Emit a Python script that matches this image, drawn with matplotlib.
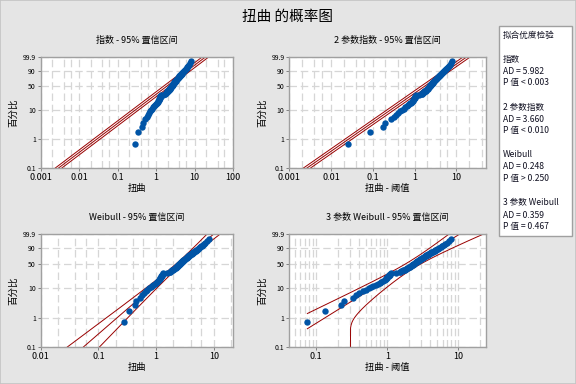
import numpy as np
import matplotlib
matplotlib.use("Agg")
import matplotlib.pyplot as plt
from matplotlib.ticker import FixedLocator, FuncFormatter, NullFormatter
from matplotlib.patches import Rectangle

plt.rcParams["font.family"] = ["Noto Sans CJK SC", "DejaVu Sans"]

# 扭曲 数据（从图中读取，升序）
niuqu = np.array([
    0.28, 0.34, 0.43, 0.45, 0.53, 0.57, 0.61, 0.66, 0.70, 0.76,
    0.80, 0.84, 0.90, 0.94, 0.99, 1.03, 1.08, 1.12, 1.15, 1.17,
    1.19, 1.21, 1.23, 1.25, 1.27, 1.29, 1.31, 1.34, 1.53, 1.71,
    1.74, 1.79, 1.84, 1.88, 1.92, 1.97, 2.03, 2.07, 2.12, 2.17,
    2.20, 2.24, 2.29, 2.33, 2.36, 2.41, 2.44, 2.49, 2.53, 2.56,
    2.61, 2.64, 2.69, 2.73, 2.76, 2.81, 2.85, 2.88, 2.93, 2.97,
    3.02, 3.06, 3.12, 3.16, 3.22, 3.27, 3.32, 3.39, 3.45, 3.50,
    3.57, 3.64, 3.70, 3.76, 3.84, 3.90, 3.99, 4.06, 4.13, 4.22,
    4.31, 4.39, 4.50, 4.62, 4.71, 4.85, 4.96, 5.08, 5.23, 5.35,
    5.51, 5.64, 5.83, 6.01, 6.18, 6.46, 6.73, 7.12, 7.58, 8.21])

pct_ticks = [0.1, 1, 10, 50, 90, 99.9]

# Weibull 拟合参数（从图中估计）
wbl_scale, wbl_shape = 3.15, 1.70
wbl3_scale, wbl3_shape, wbl3_thresh = 2.85, 1.50, 0.205

gof_names = ["指数", "2 参数指数", "Weibull", "3 参数 Weibull"]
gof_ad = ["5.982", "3.660", "0.248", "0.359"]
gof_p = ["< 0.003", "< 0.010", "> 0.250", "= 0.467"]

n = len(niuqu)
rank_pct = (np.arange(1, n + 1) - 0.3) / (n + 0.4) * 100

# 指数 / 2 参数指数 参数由数据得到
exp_scale = niuqu.mean()
exp2_scale = n * (niuqu.mean() - niuqu.min()) / (n - 1)
exp2_thresh = niuqu.min() - exp2_scale / n


def fwd(p):
    p = np.clip(np.asarray(p, dtype=float), 1e-9, 100 - 1e-9)
    return np.log(-np.log(1 - p / 100))


def inv(w):
    return 100 * (1 - np.exp(-np.exp(np.asarray(w, dtype=float))))


def ev_sd(w):
    return np.sqrt((1.1087 + 0.6079 * w ** 2 + 0.514 * w) / n)


RED = "#990000"
BLUE = "#0054a6"
z = 1.96

fig = plt.figure(figsize=(5.76, 3.84), dpi=100)
fig.patch.set_facecolor("#e5e5e5")
fig.patches.append(Rectangle((0, 0), 1, 1, transform=fig.transFigure, fill=False,
                             edgecolor="#c4c4c4", lw=1.2))

W, H = 576, 384
boxes = {
    "exp": (40.7, 56.7, 233, 168.3),
    "exp2": (289.3, 56.7, 485.7, 168.3),
    "wbl": (40.7, 234.3, 233, 347.3),
    "wbl3": (289.3, 234.3, 485.7, 347.3),
}
xlims = {"exp": (0.001, 100), "exp2": (0.001, 50), "wbl": (0.01, 21.5), "wbl3": (0.0418, 24.3)}
titles = {"exp": "指数 - 95% 置信区间", "exp2": "2 参数指数 - 95% 置信区间",
          "wbl": "Weibull - 95% 置信区间", "wbl3": "3 参数 Weibull - 95% 置信区间"}
xlabels = {"exp": "扭曲", "exp2": "扭曲 - 阈值", "wbl": "扭曲", "wbl3": "扭曲 - 阈值"}

wgrid = np.linspace(fwd(0.05), fwd(99.95), 300)
axes = {}
for key, (x0, y0, x1, y1) in boxes.items():
    ax = fig.add_axes([x0 / W, 1 - y1 / H, (x1 - x0) / W, (y1 - y0) / H])
    axes[key] = ax
    ax.set_facecolor("white")
    ax.set_xscale("log")
    ax.set_yscale("function", functions=(fwd, inv))
    ax.set_xlim(*xlims[key])
    ax.set_ylim(0.1, 99.9)
    lo, hi = np.log10(xlims[key])
    decades = 10.0 ** np.arange(np.floor(lo), np.ceil(hi) + 1)
    ax.xaxis.set_major_locator(FixedLocator(decades))
    ax.xaxis.set_major_formatter(FuncFormatter(lambda v, pos: f"{v:g}"))
    mult = range(2, 10) if key == "wbl3" else (2, 4, 6)
    ax.xaxis.set_minor_locator(FixedLocator([d * m for d in decades for m in mult]))
    ax.xaxis.set_minor_formatter(NullFormatter())
    ax.yaxis.set_major_locator(FixedLocator(pct_ticks))
    ax.yaxis.set_major_formatter(FuncFormatter(lambda v, pos: f"{v:g}"))
    ax.yaxis.set_minor_locator(FixedLocator([]))
    ax.grid(True, which="both", color="#d6d6d6", lw=0.9, ls=(0, (6, 3)))
    ax.set_axisbelow(True)
    ax.tick_params(axis="both", which="major", length=2.5, width=0.7, color="#808080", pad=1)
    ax.tick_params(axis="x", which="major", labelsize=6.5)
    ax.tick_params(axis="y", which="major", labelsize=5)
    ax.tick_params(which="minor", length=0)
    for s in ax.spines.values():
        s.set_color("#a0a0a0")
        s.set_linewidth(1)
    cx = (x0 + x1) / 2 / W
    fig.text(cx, 1 - (y0 - 16.5) / H, titles[key], ha="center", va="center", fontsize=6.5)
    fig.text(cx, 1 - (y1 + 20.5) / H, xlabels[key], ha="center", va="center", fontsize=6.7)
    fig.text((x0 - 27) / W, 1 - (y0 + y1) / 2 / H, "百分比", ha="center", va="center",
             rotation=90, fontsize=6.8)

# 指数
ax = axes["exp"]
xf = exp_scale * np.exp(wgrid)
for k in (-1, 0, 1):
    ax.plot(xf * np.exp(k * z / np.sqrt(n)), inv(wgrid), color=RED, lw=0.7)
ax.plot(niuqu, rank_pct, "o", color=BLUE, ms=4.6, mew=0)

# 2 参数指数
ax = axes["exp2"]
xf = exp2_scale * np.exp(wgrid)
for k in (-1, 0, 1):
    ax.plot(xf * np.exp(k * z / np.sqrt(n)), inv(wgrid), color=RED, lw=0.7)
ax.plot(niuqu - exp2_thresh, rank_pct, "o", color=BLUE, ms=4.6, mew=0)

# Weibull
ax = axes["wbl"]
lnx = np.log(wbl_scale) + wgrid / wbl_shape
half = z / wbl_shape * ev_sd(wgrid) * 1.08
for k in (-1, 0, 1):
    ax.plot(np.exp(lnx + k * half), inv(wgrid), color=RED, lw=0.7)
ax.plot(niuqu, rank_pct, "o", color=BLUE, ms=4.6, mew=0)

# 3 参数 Weibull
ax = axes["wbl3"]
t = np.exp(np.linspace(np.log(niuqu.min() - wbl3_thresh), np.log(40), 400))
wf = wbl3_shape * np.log(t / wbl3_scale)
w_up = wf + 1.5 * z * ev_sd(wf)
t0 = 0.3
tl = t[t > t0 + 1e-7]
wfl = wbl3_shape * np.log(tl / wbl3_scale)
w_lo = wfl - 2.0 * z * ev_sd(wfl) - 0.25 * np.log(tl / (tl - t0))
tl = np.concatenate([[t0 + 1e-9], tl])
w_lo = np.concatenate([[-12], w_lo])
ax.plot(t, inv(wf), color=RED, lw=0.7)
ax.plot(t, inv(w_up), color=RED, lw=0.7)
ax.plot(tl, inv(w_lo), color=RED, lw=0.7)
ax.plot(niuqu - wbl3_thresh, rank_pct, "o", color=BLUE, ms=4.6, mew=0)

# 标题
fig.text(288 / W, 1 - 16.5 / H, "扭曲 的概率图", ha="center", va="center", fontsize=10.5)

# 拟合优度检验 表
fig.patches.append(Rectangle((499 / W, 1 - 236 / H), 73 / W, 210 / H, transform=fig.transFigure,
                             facecolor="white", edgecolor="#a0a0a0", lw=1))
lines = ["拟合优度检验", ""]
for name, ad, pv in zip(gof_names, gof_ad, gof_p):
    lines += [name, f"AD = {ad}", f"P 值 {pv}", ""]
for i, s in enumerate(lines):
    if s:
        fig.text(503 / W, 1 - (35 + 12 * i) / H, s, ha="left", va="center", fontsize=6.2,
                 color="#111122")

fig.savefig("out.png", dpi=100, facecolor=fig.get_facecolor())
